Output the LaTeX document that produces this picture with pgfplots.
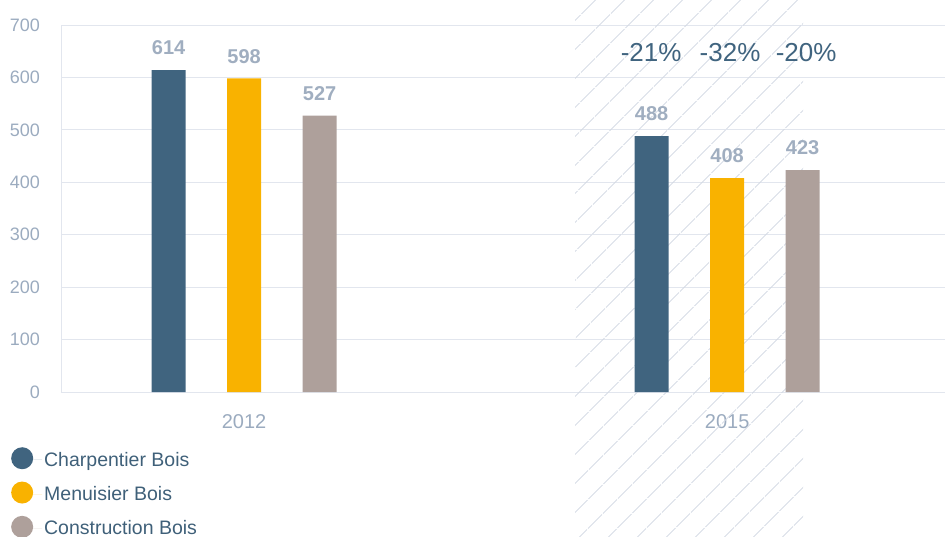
\documentclass[border=0pt]{standalone}
\usepackage{fontspec}
\setmainfont{Liberation Sans}
\usepackage{pgfplots}
\pgfplotsset{compat=1.18}
\usetikzlibrary{patterns.meta}
\definecolor{cblue}{HTML}{40647F}
\definecolor{cyellow}{HTML}{F9B200}
\definecolor{ctaupe}{HTML}{AEA09B}
\definecolor{labcol}{HTML}{A0AEC0}
\definecolor{tickcol}{HTML}{9BABBF}
\definecolor{legcol}{HTML}{3F6079}
\definecolor{gridcol}{HTML}{E2E6EE}
\definecolor{hatchcol}{HTML}{D3D9E3}
\begin{document}
\begin{tikzpicture}
\useasboundingbox (0pt,0pt) rectangle (945pt,-536pt);
\begin{axis}[
  at={(61pt,-392pt)}, anchor=south west,
  scale only axis, width=884pt, height=367pt,
  xmin=-0.379, xmax=1.451, ymin=0, ymax=700,
  ytick={0,100,...,700},
  xtick={0,1}, xticklabels={2012,2015},
  major tick length=0pt,
  ymajorgrids, grid style={gridcol, line width=0.8pt},
  axis x line*=bottom, axis y line*=left,
  axis line style={gridcol, line width=0.8pt, -},
  /pgf/number format/assume math mode=true,
  yticklabel style={font=\fontsize{18}{18}\selectfont, text=tickcol, inner sep=0pt, anchor=east, xshift=-21pt},
  xticklabel style={font=\fontsize{20}{20}\selectfont, text=tickcol, inner sep=0pt, anchor=north, yshift=-22pt},
  ybar=41.5pt, bar width=34pt,
  clip=false,
  nodes near coords,
  every node near coord/.append style={font=\bfseries\fontsize{20}{20}\selectfont, text=labcol, inner sep=0pt, anchor=south, yshift=15pt},
  circlegend/.style={legend image code/.code={\fill[##1, draw=none] (11pt,0.35em-2pt) circle (11pt); \path (0pt,0pt) -- (31pt,0pt);}},
  legend style={at={(axis description cs:-0.0566,-0.1499)}, anchor=north west, draw=none, fill=none, inner sep=0pt, row sep=12pt, font=\fontsize{19.5}{20}\selectfont, text=legcol, cells={anchor=west, inner sep=0pt}},
]
\fill[pattern={Lines[angle=45,distance=20.5pt,line width=0.9pt]}, pattern color=hatchcol] (axis cs:0.6853,-300) rectangle (axis cs:1.1573,760);
\addplot[fill=cblue, draw=none, circlegend] coordinates {(0,614) (1,488)};
\addplot[fill=cyellow, draw=none, circlegend] coordinates {(0,598) (1,408)};
\addplot[fill=ctaupe, draw=none, circlegend] coordinates {(0,527) (1,423)};
\legend{Charpentier Bois, Menuisier Bois, Construction Bois}
\node[font=\fontsize{26}{26}\selectfont, text=cblue, anchor=base] at (axis cs:0.8427,630) {-21\%};
\node[font=\fontsize{26}{26}\selectfont, text=cblue, anchor=base] at (axis cs:1.006,630) {-32\%};
\node[font=\fontsize{26}{26}\selectfont, text=cblue, anchor=base] at (axis cs:1.1636,630) {-20\%};
\end{axis}
\end{tikzpicture}
\end{document}
